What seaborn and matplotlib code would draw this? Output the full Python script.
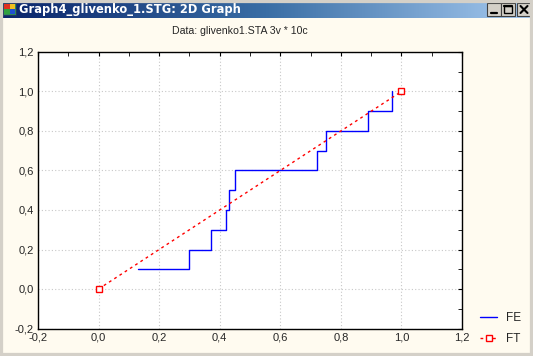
import numpy as np
import pandas as pd
import matplotlib
matplotlib.use("Agg")
import matplotlib.pyplot as plt
from matplotlib.patches import Rectangle
from matplotlib.ticker import MultipleLocator, FuncFormatter
from matplotlib.colors import LinearSegmentedColormap
import seaborn as sns

# ---- data ----
fe_x = [0.13, 0.30, 0.37, 0.42, 0.43, 0.45, 0.72, 0.75, 0.89, 0.97]
fe_y = [0.1, 0.2, 0.3, 0.4, 0.5, 0.6, 0.7, 0.8, 0.9, 1.0]
ft_x = [0.0, 1.0]
ft_y = [0.0, 1.0]
window_title = "Graph4_glivenko_1.STG: 2D Graph"
chart_title = "Data: glivenko1.STA 3v * 10c"
x_ticks = [-0.2, 0.0, 0.2, 0.4, 0.6, 0.8, 1.0, 1.2]
y_ticks = [-0.2, 0.0, 0.2, 0.4, 0.6, 0.8, 1.0, 1.2]

sns.set_style("white")
plt.rcParams['font.family'] = ['Liberation Sans', 'DejaVu Sans']

W, H = 533, 356
fig = plt.figure(figsize=(W / 100, H / 100), dpi=100)
fig.patch.set_facecolor("#FFFBF0")

def fx(px):
    return px / W

def fy(py):
    return 1 - py / H

# window border
fig.patches.append(Rectangle((0, 0), 1, 1, transform=fig.transFigure,
                             fill=False, edgecolor="#D4D0C8", lw=4.5, zorder=0))

# title bar gradient
tb = fig.add_axes([0, fy(18), 1, 18 / H])
grad = np.linspace(0, 1, 256).reshape(1, -1)
cmap = LinearSegmentedColormap.from_list("tb", ["#0A246A", "#3A6EA5", "#A6CAF0"])
tb.imshow(grad, aspect="auto", cmap=cmap, extent=[0, W, 18, 0])
tb.set_xlim(0, W)
tb.set_ylim(18, 0)
tb.axis("off")
# icon
tb.add_patch(Rectangle((3, 3), 13, 12, facecolor="#2E8B57", edgecolor="#203060", lw=0.6))
tb.add_patch(Rectangle((4, 4), 6, 5, facecolor="#E03020", lw=0))
tb.add_patch(Rectangle((10, 4), 5, 5, facecolor="#F0C020", lw=0))
tb.add_patch(Rectangle((4, 9), 6, 5, facecolor="#30A040", lw=0))
tb.add_patch(Rectangle((10, 9), 5, 5, facecolor="#2050D0", lw=0))
tb.text(19, 9.5, window_title, color="white", fontsize=8.3, fontweight="bold",
        va="center", ha="left", family=["DejaVu Sans"])
# buttons
for bx in [487, 501, 517]:
    tb.add_patch(Rectangle((bx, 3), 14, 13, facecolor="#D4D0C8", edgecolor="#404040", lw=0.8))
tb.plot([491, 497], [12.5, 12.5], color="black", lw=1.6)
tb.add_patch(Rectangle((504, 5.5), 8, 7, fill=False, edgecolor="black", lw=1.0))
tb.plot([504, 512], [6.3, 6.3], color="black", lw=1.6)
tb.plot([520.5, 527.5], [6, 13], color="black", lw=1.5)
tb.plot([520.5, 527.5], [13, 6], color="black", lw=1.5)

# chart title
fig.text(fx(240), fy(31), chart_title, ha="center", va="center", fontsize=7.6)

# main axes
left, right, top, bottom = 38, 462, 52, 328.5
ax = fig.add_axes([fx(left), fy(bottom), (right - left) / W, (bottom - top) / H])
ax.set_facecolor("white")

fe_df = pd.DataFrame({"x": fe_x, "y": fe_y})
ft_df = pd.DataFrame({"x": ft_x, "y": ft_y})
sns.lineplot(data=fe_df, x="x", y="y", ax=ax, color="#0000FF", lw=1.0,
             drawstyle="steps-post", estimator=None, sort=False, label="FE", zorder=3)
sns.lineplot(data=ft_df, x="x", y="y", ax=ax, color="#FF0000", lw=1.0,
             linestyle=(0, (2, 2.5)), marker="s", markersize=5,
             markerfacecolor="white", markeredgecolor="#FF0000", markeredgewidth=1.0,
             estimator=None, sort=False, label="FT", zorder=4)

ax.set_xlim(-0.2, 1.2)
ax.set_ylim(-0.2, 1.2)
ax.set_xticks(x_ticks)
ax.set_yticks(y_ticks)
ax.xaxis.set_minor_locator(MultipleLocator(0.1))
ax.yaxis.set_minor_locator(MultipleLocator(0.1))
fmt = FuncFormatter(lambda v, p: f"{v:.1f}".replace(".", ",").replace("-0,0", "0,0"))
ax.xaxis.set_major_formatter(fmt)
ax.yaxis.set_major_formatter(fmt)
ax.set_xlabel("")
ax.set_ylabel("")
ax.grid(True, which="major", color="#C8C8C8", linestyle=(0, (1, 2)), lw=0.8)
ax.tick_params(which="both", direction="in", top=True, right=True, color="black",
               labelsize=8, pad=3)
ax.tick_params(which="major", length=3)
ax.tick_params(which="minor", length=3)
for s in ax.spines.values():
    s.set_color("black")
    s.set_linewidth(1.0)

leg = ax.legend(loc="lower left", bbox_to_anchor=(fx(480), fy(345)), bbox_transform=fig.transFigure,
                frameon=False, fontsize=8.5, handlelength=1.45, handletextpad=0.75,
                labelspacing=0.75, borderaxespad=0, borderpad=0)

fig.savefig("out.png", dpi=100, facecolor=fig.get_facecolor())
